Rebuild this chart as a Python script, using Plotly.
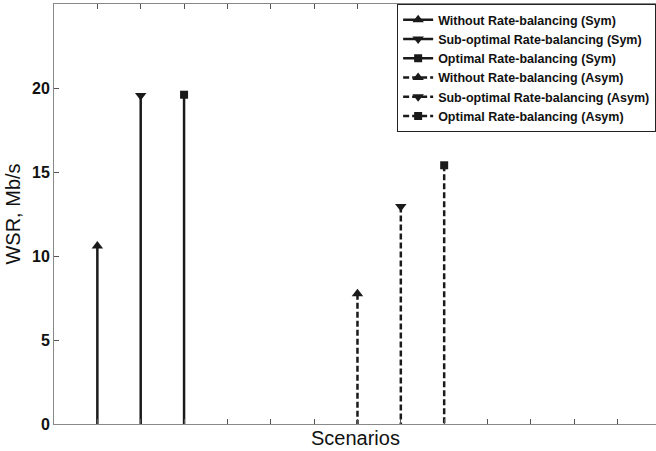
import plotly.graph_objects as go

# Data
names = [
    "Without Rate-balancing (Sym)",
    "Sub-optimal Rate-balancing (Sym)",
    "Optimal Rate-balancing (Sym)",
    "Without Rate-balancing (Asym)",
    "Sub-optimal Rate-balancing (Asym)",
    "Optimal Rate-balancing (Asym)",
]
positions = [1, 2, 3, 7, 8, 9]
wsr_values = [10.6, 19.55, 19.6, 7.75, 12.95, 15.4]
symbols = ["triangle-up", "triangle-down", "square", "triangle-up", "triangle-down", "square"]
dashes = ["solid", "solid", "solid", "6px,3px", "6px,3px", "6px,3px"]
y_ticks = [0, 5, 10, 15, 20]
x_title = "Scenarios"
y_title = "WSR, Mb/s"

fig = go.Figure()
for name, xp, v, sym, dash in zip(names, positions, wsr_values, symbols, dashes):
    fig.add_trace(go.Scatter(
        x=[xp, xp], y=[v, 0],
        mode="lines+markers",
        name=name,
        line=dict(color="#1a1a1a", width=2.5, dash=dash),
        marker=dict(symbol=sym, size=10 if sym != "square" else 8,
                    color=["#1a1a1a", "rgba(0,0,0,0)"], line=dict(width=0)),
        cliponaxis=False,
    ))

fig.add_annotation(
    text=x_title, xref="paper", yref="paper", x=0.5, y=0,
    xanchor="center", yanchor="middle", yshift=-14, showarrow=False,
    font=dict(size=20),
)

fig.update_layout(
    width=656, height=451,
    margin=dict(l=54, r=0, t=4, b=27, autoexpand=False),
    plot_bgcolor="white", paper_bgcolor="white",
    font=dict(family="Liberation Sans, Arial, sans-serif", color="#111"),
    showlegend=True,
    legend=dict(
        x=0.570, y=1, xanchor="left", yanchor="top",
        bgcolor="white", bordercolor="#222", borderwidth=1,
        font=dict(size=12.5, family="Liberation Sans, Arial, sans-serif", weight="bold"),
        tracegroupgap=0, itemwidth=30,
    ),
    xaxis=dict(
        range=[0, 13.886], tickvals=list(range(1, 14)), showticklabels=False,
        ticks="inside", ticklen=5, tickcolor="#555", showline=True, linecolor="#888",
        linewidth=1, mirror="ticks", showgrid=False, zeroline=False, automargin=False,
    ),
    yaxis=dict(
        range=[0, 25], tickvals=y_ticks, ticks="inside", ticklen=5, tickcolor="#555",
        showline=True, linecolor="#888", linewidth=1, showgrid=False, zeroline=False,
        automargin=False,
        tickfont=dict(size=16, weight="bold"),
        title=dict(text=y_title, font=dict(size=20), standoff=6),
    ),
)

fig.write_html("out.html", post_script="document.body.style.margin='0';",
               config={"displayModeBar": False})
